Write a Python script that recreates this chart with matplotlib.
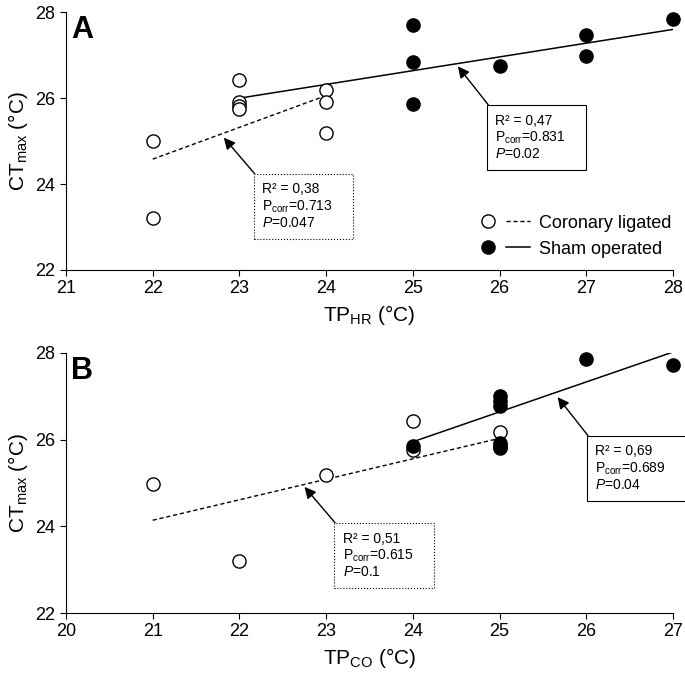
import matplotlib
matplotlib.use('Agg')
import matplotlib.pyplot as plt
from matplotlib.lines import Line2D
from matplotlib.legend_handler import HandlerTuple

plt.rcParams['font.family'] = ['Liberation Sans', 'DejaVu Sans']
plt.rcParams['mathtext.fontset'] = 'custom'
plt.rcParams['mathtext.rm'] = 'Liberation Sans'
plt.rcParams['mathtext.it'] = 'Liberation Sans:italic'

# panel A: TP_HR
a_cor_x = [22, 22, 23, 23, 23, 23, 24, 24, 24]
a_cor_y = [25.0, 23.2, 26.42, 25.9, 25.82, 25.74, 26.2, 25.9, 25.2]
a_sham_x = [25, 25, 25, 26, 27, 27, 28]
a_sham_y = [27.7, 26.85, 25.87, 26.76, 27.47, 26.97, 27.84]
a_cor_fit_x = [22, 24]
a_cor_fit_y = [24.58, 26.06]
a_sham_fit_x = [23, 28]
a_sham_fit_y = [26.0, 27.6]

# panel B: TP_CO
b_cor_x = [21, 22, 23, 24, 24, 25, 25, 25]
b_cor_y = [24.98, 23.2, 25.19, 26.42, 25.76, 26.18, 25.85, 25.8]
b_sham_x = [24, 25, 25, 25, 25, 25, 26, 27]
b_sham_y = [25.86, 27.0, 26.9, 26.78, 25.92, 25.84, 27.86, 27.72]
b_cor_fit_x = [21, 25]
b_cor_fit_y = [24.14, 26.03]
b_sham_fit_x = [24, 27]
b_sham_fit_y = [25.95, 28.02]

stats_a = ['R² = 0,38\nP$_\\mathregular{corr}$=0.713    \n$P$=0.047',
           'R² = 0,47\nP$_\\mathregular{corr}$=0.831    \n$P$=0.02']
stats_b = ['R² = 0,51\nP$_\\mathregular{corr}$=0.615    \n$P$=0.1',
           'R² = 0,69\nP$_\\mathregular{corr}$=0.689    \n$P$=0.04']

fig = plt.figure(figsize=(6.85, 6.8), dpi=100)
axA = fig.add_axes([0.0964, 0.603, 0.886, 0.379])
axB = fig.add_axes([0.0964, 0.0985, 0.886, 0.3825])


def panel(ax, cx, cy, sx, sy, cfx, cfy, sfx, sfy, xlim, letter, xlabel):
    ax.plot(cfx, cfy, color='k', ls=(0, (3, 2)), lw=1)
    ax.plot(sfx, sfy, color='k', ls='-', lw=1.1)
    ax.plot(cx, cy, 'o', ms=9.5, mfc='white', mec='k', mew=1, ls='none', clip_on=False)
    ax.plot(sx, sy, 'o', ms=9.5, mfc='k', mec='k', mew=1, ls='none', clip_on=False)
    ax.set_xlim(*xlim)
    ax.set_ylim(22, 28)
    ax.set_xticks(range(xlim[0], xlim[1] + 1))
    ax.set_yticks([22, 24, 26, 28])
    ax.spines['top'].set_visible(False)
    ax.spines['right'].set_visible(False)
    ax.tick_params(labelsize=13, direction='out', length=4)
    ax.set_ylabel('CT$_\\mathregular{max}$ (°C)', fontsize=15)
    ax.set_xlabel(xlabel, fontsize=15)
    ax.text(0.008, 0.99, letter, transform=ax.transAxes, fontsize=22,
            fontweight='bold', ha='left', va='top')


def box(ax, text, head, corner, ls):
    ax.annotate(text, xy=head, xytext=corner, fontsize=10, ha='left', va='top',
                linespacing=1.15, annotation_clip=False,
                bbox=dict(boxstyle='square,pad=0.6', fc='white', ec='k', ls=ls, lw=0.8),
                arrowprops=dict(arrowstyle='-|>', color='k', lw=1, relpos=(0, 1),
                                shrinkA=0, shrinkB=0, mutation_scale=17))


panel(axA, a_cor_x, a_cor_y, a_sham_x, a_sham_y, a_cor_fit_x, a_cor_fit_y,
      a_sham_fit_x, a_sham_fit_y, (21, 28), 'A', 'TP$_\\mathregular{HR}$ (°C)')
panel(axB, b_cor_x, b_cor_y, b_sham_x, b_sham_y, b_cor_fit_x, b_cor_fit_y,
      b_sham_fit_x, b_sham_fit_y, (20, 27), 'B', 'TP$_\\mathregular{CO}$ (°C)')

box(axA, stats_a[0], (22.82, 25.08), (23.26, 24.04), ':')
box(axA, stats_a[1], (25.52, 26.74), (25.95, 25.64), '-')
box(axB, stats_b[0], (22.75, 24.91), (23.19, 23.88), ':')
box(axB, stats_b[1], (25.67, 26.98), (26.10, 25.89), '-')

h_open = Line2D([], [], marker='o', ms=9.5, mfc='white', mec='k', ls='none')
h_fill = Line2D([], [], marker='o', ms=9.5, mfc='k', mec='k', ls='none')
h_dash = Line2D([], [], color='k', ls=(0, (3, 2)), lw=1)
h_solid = Line2D([], [], color='k', ls='-', lw=1.1)
axA.legend([(h_open, h_dash), (h_fill, h_solid)], ['Coronary ligated', 'Sham operated'],
           handler_map={tuple: HandlerTuple(ndivide=None, pad=0.3)},
           loc='lower right', bbox_to_anchor=(1.025, -0.015), frameon=False,
           fontsize=13, handlelength=3.0, handletextpad=0.5, labelspacing=0.5)

plt.savefig('out.png', dpi=100)
